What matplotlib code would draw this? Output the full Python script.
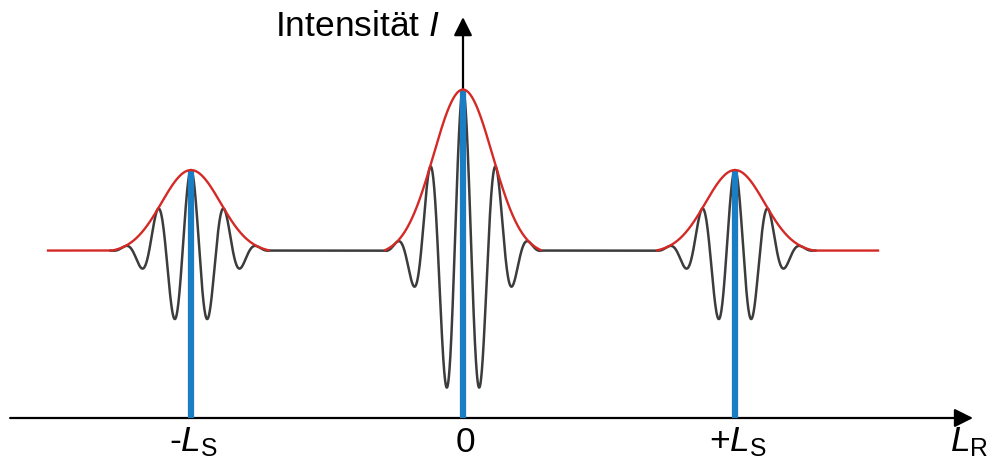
import numpy as np
import matplotlib
matplotlib.use("Agg")
import matplotlib.pyplot as plt

plt.rcParams['font.family'] = ['Liberation Sans', 'DejaVu Sans']
plt.rcParams['mathtext.fontset'] = 'custom'
plt.rcParams['mathtext.rm'] = 'Liberation Sans'
plt.rcParams['mathtext.it'] = 'Liberation Sans:italic'

# -----------------------------
# Data (x in units of L_S, y in units of central fringe amplitude)
# -----------------------------
packet_centers = [-1.0, 0.0, 1.0]
packet_amplitudes = [0.5, 1.0, 0.5]
baseline = 1.04
envelope_width = 0.153
fringe_period = 0.123
envelope_halfspan = 0.29
gray_range = [-1.30, 1.30]
red_range = [-1.53, 1.53]

tick_positions = [-1.0, 0.0, 1.0]
tick_labels = [r'-$L_\mathrm{S}$', '0', r'+$L_\mathrm{S}$']
x_label = r'$L_\mathrm{R}$'
y_label = r'Intensität $I$'

gray = '#3c3c3c'
red = '#d42a26'
blue = '#1b7dc2'


def envelope(x, c, a):
    # gaussian envelope that reaches the baseline at +/- envelope_halfspan
    g = np.exp(-((x - c) / envelope_width) ** 2)
    g0 = np.exp(-(envelope_halfspan / envelope_width) ** 2)
    return a * np.clip((g - g0) / (1 - g0), 0, None)


fig = plt.figure(figsize=(9.97, 4.63), dpi=100)
ax = fig.add_axes([0, 0, 1, 1])
ax.set_xlim(-463 / 272, (997 - 463) / 272)
ax.set_ylim(-45 / 161, 418 / 161)
ax.axis('off')

# fringe pattern (gray)
x = np.linspace(gray_range[0], gray_range[1], 4000)
y = np.full_like(x, baseline)
for c, a in zip(packet_centers, packet_amplitudes):
    y += envelope(x, c, a) * np.cos(2 * np.pi * (x - c) / fringe_period)
ax.plot(x, y, color=gray, lw=1.8, zorder=2, solid_capstyle='butt')

# envelopes (red), one segment per packet, outer ones run to the ends
for i, (c, a) in enumerate(zip(packet_centers, packet_amplitudes)):
    lo = c - envelope_halfspan
    hi = c + envelope_halfspan
    if i == 0:
        lo = red_range[0]
    if i == len(packet_centers) - 1:
        hi = red_range[1]
    xe = np.linspace(lo, hi, 800)
    ye = baseline + envelope(xe, c, a)
    ax.plot(xe, ye, color=red, lw=1.7, zorder=4, solid_capstyle='butt')

# blue lines at packet centers
for c, a in zip(packet_centers, packet_amplitudes):
    ax.plot([c, c], [0, baseline + a], color=blue, lw=4.5, zorder=3,
            solid_capstyle='butt')

# axes arrows
ax.annotate('', xy=(1.875, 0), xytext=(-1.665, 0),
            arrowprops=dict(arrowstyle='-|>', color='black', lw=1.6,
                            mutation_scale=28, shrinkA=0, shrinkB=0), zorder=1)
ax.annotate('', xy=(0, 2.49), xytext=(0, 0),
            arrowprops=dict(arrowstyle='-|>', color='black', lw=1.6,
                            mutation_scale=28, shrinkA=0, shrinkB=0), zorder=1)

# labels
for p, lab in zip(tick_positions, tick_labels):
    ax.text(p + 0.01, -0.15, lab, ha='center', va='center', fontsize=25.5)
ax.text(1.86, -0.15, x_label, ha='center', va='center', fontsize=25.5)
ax.text(-0.085, 2.43, y_label, ha='right', va='center', fontsize=25.5)

fig.savefig('out.png', dpi=100)
